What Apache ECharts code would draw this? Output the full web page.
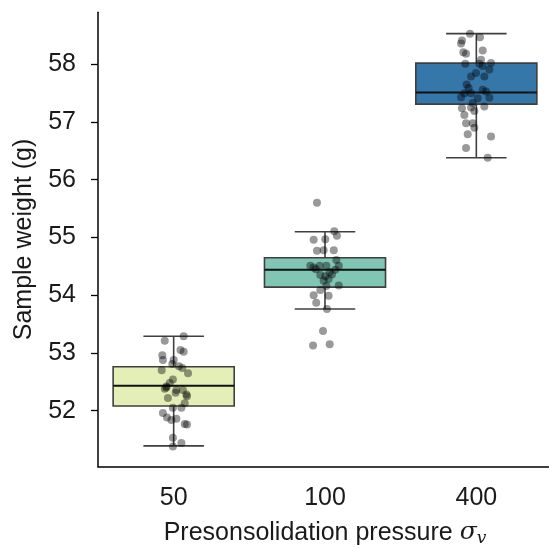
<!DOCTYPE html>
<html>
<head>
<meta charset="utf-8">
<script src="https://cdn.jsdelivr.net/npm/echarts@6/dist/echarts.min.js"></script>
<style>html,body{margin:0;padding:0;background:#fff}#c{width:549px;height:548px}</style>
</head>
<body>
<div id="c"></div>
<script>
// ---- data ----
const categories = ['50', '100', '400'];
const whiskerLow  = [51.39, 53.76, 56.38];
const q1          = [52.08, 54.14, 57.31];
const median      = [52.43, 54.44, 57.51];
const q3          = [52.76, 54.65, 58.02];
const whiskerHigh = [53.29, 55.10, 58.53];
const boxColors = ['#e3efb7', '#81c5b5', '#3677a9'];
const yTicks = [52, 53, 54, 55, 56, 57, 58];

// jittered sample points: values and horizontal jitter (category units)
const vals50 = [53.29, 53.21, 53.02, 52.96, 52.88, 52.88, 52.81, 52.77, 52.74, 52.70, 52.65, 52.54, 52.48, 52.40, 52.38, 52.36, 52.36, 52.28, 52.31, 52.22, 52.25, 52.13, 52.05, 52.05, 51.96, 51.88, 51.86, 51.77, 51.76, 51.53, 51.44, 51.38, 52.42, 51.84, 53.05];
const jit50  = [0.066, -0.059, 0.066, -0.075, -0.071, 0.000, -0.009, 0.035, 0.057, -0.079, 0.095, -0.005, -0.026, -0.048, -0.059, 0.018, 0.061, 0.084, 0.013, -0.038, 0.088, 0.073, -0.005, 0.051, -0.071, -0.044, 0.018, 0.073, 0.088, -0.005, 0.051, -0.005, -0.048, -0.015, 0.045];
const vals100 = [55.60, 55.11, 55.03, 54.96, 54.97, 54.78, 54.77, 54.78, 54.61, 54.51, 54.48, 54.51, 54.51, 54.51, 54.44, 54.35, 54.33, 54.36, 54.28, 54.25, 54.17, 54.16, 54.09, 54.00, 53.99, 53.87, 53.76, 53.38, 53.13, 53.15, 54.45, 54.40];
const jit100  = [-0.053, 0.061, 0.079, -0.075, 0.002, 0.058, -0.053, -0.009, 0.075, -0.097, -0.075, -0.035, 0.009, 0.091, 0.068, -0.031, 0.002, 0.046, 0.024, -0.009, 0.091, 0.009, -0.031, -0.075, 0.024, -0.058, 0.013, -0.013, -0.079, 0.031, -0.060, 0.030];
const vals400 = [58.53, 58.47, 58.41, 58.36, 58.21, 58.18, 58.24, 58.08, 58.02, 58.01, 58.01, 57.97, 57.91, 57.85, 57.79, 57.79, 57.65, 57.59, 57.56, 57.50, 57.50, 57.53, 57.43, 57.41, 57.42, 57.33, 57.27, 57.24, 57.25, 57.12, 57.19, 56.98, 56.98, 56.90, 56.79, 56.75, 56.55, 56.38];
const jit400  = [-0.042, 0.024, -0.095, -0.101, -0.086, -0.068, 0.042, 0.031, 0.097, -0.073, 0.020, 0.042, 0.086, -0.002, -0.035, 0.053, -0.064, -0.051, 0.042, -0.079, -0.035, 0.064, -0.101, 0.009, 0.086, -0.024, 0.053, -0.095, -0.035, -0.079, -0.013, -0.068, -0.024, -0.013, -0.057, 0.097, -0.068, 0.075];

// ---- build series data ----
const boxData = categories.map((c, i) => [i, whiskerLow[i], q1[i], median[i], q3[i], whiskerHigh[i]]);
const groups = [[vals50, jit50], [vals100, jit100], [vals400, jit400]];
const pointData = [];
groups.forEach((g, i) => g[0].forEach((v, k) => pointData.push([i + g[1][k], v])));

const FONT = 'Liberation Sans';
const FS = 25;
const TXT = '#1a1a1a';
const chart = echarts.init(document.getElementById('c'), null, {renderer: 'canvas'});

function renderBox(params, api) {
  const i = api.value(0);
  const pLow = api.coord([i, api.value(1)]);
  const pQ1 = api.coord([i, api.value(2)]);
  const pMed = api.coord([i, api.value(3)]);
  const pQ3 = api.coord([i, api.value(4)]);
  const pHigh = api.coord([i, api.value(5)]);
  const w = api.size([0.8, 0])[0];
  const cx = pMed[0];
  const edge = {stroke: '#3f3f3f', lineWidth: 1.6};
  return {
    type: 'group',
    children: [
      {type: 'line', shape: {x1: cx, y1: pQ1[1], x2: cx, y2: pLow[1]}, style: edge},
      {type: 'line', shape: {x1: cx, y1: pQ3[1], x2: cx, y2: pHigh[1]}, style: edge},
      {type: 'line', shape: {x1: cx - w / 4, y1: pLow[1], x2: cx + w / 4, y2: pLow[1]}, style: edge},
      {type: 'line', shape: {x1: cx - w / 4, y1: pHigh[1], x2: cx + w / 4, y2: pHigh[1]}, style: edge},
      {type: 'rect', shape: {x: cx - w / 2, y: pQ3[1], width: w, height: pQ1[1] - pQ3[1]},
        style: {fill: boxColors[i], stroke: '#3f3f3f', lineWidth: 1.6}},
      {type: 'line', shape: {x1: cx - w / 2, y1: pMed[1], x2: cx + w / 2, y2: pMed[1]},
        style: {stroke: '#111', lineWidth: 2}}
    ]
  };
}

chart.setOption({
  animation: false,
  backgroundColor: '#fff',
  grid: {left: 98, right: -3, top: 12.3, bottom: 81.3, containLabel: false, outerBoundsMode: 'none'},
  xAxis: [{
    type: 'category',
    data: categories,
    boundaryGap: true,
    name: 'Presonsolidation pressure {s|σ}{v|v}',
    nameLocation: 'middle',
    nameGap: 52,
    nameTextStyle: {fontFamily: FONT, fontSize: FS, color: TXT,
      rich: {s: {fontFamily: 'DejaVu Serif', fontStyle: 'italic', fontSize: FS, color: TXT},
             v: {fontFamily: 'DejaVu Serif', fontStyle: 'italic', fontSize: 17, color: TXT, padding: [11, 0, 0, 0]}}},
    axisLine: {onZero: false, lineStyle: {color: '#000', width: 1.5}},
    axisTick: {alignWithLabel: true, length: 7, lineStyle: {color: '#000', width: 1.3}},
    axisLabel: {fontFamily: FONT, fontSize: FS, color: TXT, margin: 19},
    splitLine: {show: false}
  }, {
    type: 'value', min: -0.5, max: 2.5, show: false
  }],
  yAxis: {
    type: 'value',
    min: 51.03, max: 58.90,
    name: 'Sample weight (g)',
    nameLocation: 'middle',
    nameGap: 61,
    nameRotate: 90,
    nameTextStyle: {fontFamily: FONT, fontSize: FS, color: TXT},
    axisLine: {show: true, onZero: false, lineStyle: {color: '#000', width: 1.5}},
    axisTick: {show: true, length: 7, customValues: yTicks, lineStyle: {color: '#000', width: 1.3}},
    axisLabel: {fontFamily: FONT, fontSize: FS, color: TXT, margin: 22, customValues: yTicks},
    splitLine: {show: false}
  },
  series: [{
    type: 'custom',
    xAxisIndex: 1,
    renderItem: renderBox,
    encode: {x: 0, y: [1, 2, 3, 4, 5]},
    data: boxData,
    z: 2
  }, {
    type: 'scatter',
    xAxisIndex: 1,
    data: pointData,
    symbolSize: 8,
    itemStyle: {color: 'rgba(0,0,0,0.5)'},
    z: 3
  }]
});
</script>
</body>
</html>
